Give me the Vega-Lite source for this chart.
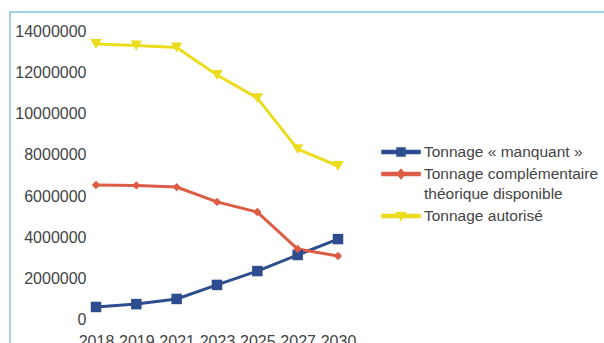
{
  "$schema": "https://vega.github.io/schema/vega-lite/v6.json",
  "width": 600,
  "height": 340,
  "autosize": {"type": "none"},
  "padding": {"left": 10, "top": 12, "right": 0, "bottom": 0},
  "background": "white",
  "config": {
    "view": {"stroke": "#86c4e4", "strokeWidth": 1.5},
    "font": "Liberation Sans",
    "axis": {"labelFont": "Liberation Sans", "labelFontSize": 16, "labelColor": "#444444", "domain": false, "ticks": false, "grid": false, "title": null},
    "legend": {"labelFont": "Liberation Sans", "labelFontSize": 15.5, "labelColor": "#444444"},
    "style": {"guide-label": {"lineHeight": 20}}
  },
  "data": {
    "values": [
      {"annee": "2018", "serie": "Tonnage « manquant »", "valeur": 630000},
      {"annee": "2019", "serie": "Tonnage « manquant »", "valeur": 770000},
      {"annee": "2021", "serie": "Tonnage « manquant »", "valeur": 1020000},
      {"annee": "2023", "serie": "Tonnage « manquant »", "valeur": 1700000},
      {"annee": "2025", "serie": "Tonnage « manquant »", "valeur": 2370000},
      {"annee": "2027", "serie": "Tonnage « manquant »", "valeur": 3150000},
      {"annee": "2030", "serie": "Tonnage « manquant »", "valeur": 3920000},
      {"annee": "2018", "serie": "Tonnage complémentaire théorique disponible", "valeur": 6540000},
      {"annee": "2019", "serie": "Tonnage complémentaire théorique disponible", "valeur": 6520000},
      {"annee": "2021", "serie": "Tonnage complémentaire théorique disponible", "valeur": 6440000},
      {"annee": "2023", "serie": "Tonnage complémentaire théorique disponible", "valeur": 5720000},
      {"annee": "2025", "serie": "Tonnage complémentaire théorique disponible", "valeur": 5230000},
      {"annee": "2027", "serie": "Tonnage complémentaire théorique disponible", "valeur": 3440000},
      {"annee": "2030", "serie": "Tonnage complémentaire théorique disponible", "valeur": 3100000},
      {"annee": "2018", "serie": "Tonnage autorisé", "valeur": 13370000},
      {"annee": "2019", "serie": "Tonnage autorisé", "valeur": 13300000},
      {"annee": "2021", "serie": "Tonnage autorisé", "valeur": 13200000},
      {"annee": "2023", "serie": "Tonnage autorisé", "valeur": 11870000},
      {"annee": "2025", "serie": "Tonnage autorisé", "valeur": 10750000},
      {"annee": "2027", "serie": "Tonnage autorisé", "valeur": 8280000},
      {"annee": "2030", "serie": "Tonnage autorisé", "valeur": 7460000}
    ]
  },
  "encoding": {
    "x": {
      "field": "annee", "type": "ordinal",
      "scale": {"type": "point", "range": [86, 328], "padding": 0},
      "axis": {"labelAngle": 0, "offset": -20, "labelPadding": 1}
    },
    "y": {
      "field": "valeur", "type": "quantitative",
      "scale": {"domain": [-1550176, 14920417], "nice": false, "zero": false},
      "axis": {"values": [0, 2000000, 4000000, 6000000, 8000000, 10000000, 12000000, 14000000], "format": "d", "offset": -78, "labelPadding": 2}
    },
    "color": {
      "field": "serie", "type": "nominal",
      "scale": {
        "domain": ["Tonnage « manquant »", "Tonnage complémentaire théorique disponible", "Tonnage autorisé"],
        "range": ["#2e4d8e", "#dc5c46", "#ecdc1e"]
      },
      "legend": {
        "title": null,
        "orient": "none",
        "legendX": 380,
        "legendY": 129,
        "symbolSize": 400,
        "rowPadding": 2,
        "labelOffset": 12,
        "labelLimit": 300,
        "labelExpr": "datum.value == 'Tonnage complémentaire théorique disponible' ? ['Tonnage complémentaire', 'théorique disponible'] : datum.label"
      }
    }
  },
  "layer": [
    {
      "mark": {"type": "line", "strokeWidth": 3},
      "encoding": {}
    },
    {
      "transform": [{"filter": "datum.serie == 'Tonnage « manquant »'"}],
      "mark": {"type": "point", "filled": true, "opacity": 1, "shape": "square", "size": 110},
      "encoding": {}
    },
    {
      "transform": [{"filter": "datum.serie == 'Tonnage complémentaire théorique disponible'"}],
      "mark": {"type": "point", "filled": true, "opacity": 1, "shape": "diamond", "size": 70},
      "encoding": {}
    },
    {
      "transform": [{"filter": "datum.serie == 'Tonnage autorisé'"}],
      "mark": {"type": "point", "filled": true, "opacity": 1, "shape": "triangle-down", "size": 130},
      "encoding": {}
    },
    {
      "transform": [{"filter": "datum.valeur < 0"}],
      "mark": {"type": "point", "filled": true, "opacity": 1, "size": 400},
      "encoding": {
        "shape": {
          "field": "serie", "type": "nominal",
          "scale": {
            "domain": ["Tonnage « manquant »", "Tonnage complémentaire théorique disponible", "Tonnage autorisé"],
            "range": [
              "M-1.9,-0.15L1.9,-0.15L1.9,0.15L-1.9,0.15Z M-0.4,-0.4L0.4,-0.4L0.4,0.4L-0.4,0.4Z",
              "M-1.9,-0.15L1.9,-0.15L1.9,0.15L-1.9,0.15Z M0,-0.45L0.38,0L0,0.45L-0.38,0Z",
              "M-1.9,-0.15L1.9,-0.15L1.9,0.15L-1.9,0.15Z M-0.45,-0.35L0.45,-0.35L0,0.4Z"
            ]
          },
          "legend": {
            "title": null,
            "orient": "none",
            "legendX": 380,
            "legendY": 129,
            "symbolSize": 400,
            "rowPadding": 2,
            "labelOffset": 12,
            "labelLimit": 300,
            "labelExpr": "datum.value == 'Tonnage complémentaire théorique disponible' ? ['Tonnage complémentaire', 'théorique disponible'] : datum.label"
          }
        }
      }
    }
  ]
}
